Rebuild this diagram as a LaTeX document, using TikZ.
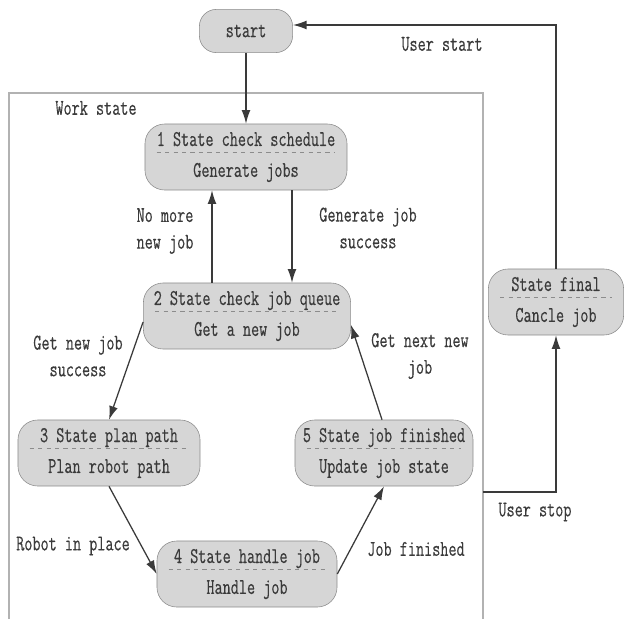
\documentclass[tikz,border=0pt]{standalone}
\usepackage{fontspec}
\setmainfont{Latin Modern Mono}[FakeStretch=0.7,FakeBold=0.4]
\usetikzlibrary{arrows.meta, positioning, calc}
\definecolor{stfill}{HTML}{D6D6D6}
\definecolor{stline}{HTML}{8C8C8C}
\definecolor{ink}{HTML}{3A3A3A}
\tikzset{state/.style={rectangle,draw=stline,fill=stfill,rounded corners=14pt,align=center,minimum height=1.65cm,text=ink,font=\fontsize{16}{22}\selectfont,inner sep=2pt},
         startbox/.style={rectangle,draw=stline,fill=stfill,rounded corners=12pt,minimum width=2.33cm,minimum height=1.08cm,text=ink,font=\fontsize{16}{16}\selectfont},
         label/.style={align=center,text=ink,font=\fontsize{16}{19}\selectfont,inner sep=0pt},
         sep/.style={dashed,stline,line width=0.5pt},
         frame/.style={draw=gray!60,line width=0.8pt},
         arrow/.style={-{Latex[length=3.4mm,width=2.2mm]},line width=0.9pt,draw=ink}}

\begin{document}
\begin{tikzpicture}[x=0.025cm,y=-0.025cm]
    \useasboundingbox (0,0) rectangle (625,619);
    % Work state frame
    \draw[frame] (9,619) -- (9,93) -- (483,93) -- (483,619);
    \node (work) at (96,108) [label]{Work state};
    % States
    \node (start) at (246,31) [startbox]{start};
    \node (s1) at (246,157) [state,minimum width=5.05cm]{1 State check schedule\\Generate jobs};
    \node (s2) at (247,316) [state,minimum width=5.18cm]{2 State check job queue\\Get a new job};
    \node (s3) at (109,453) [state,minimum width=4.55cm]{3 State plan path\\Plan robot path};
    \node (s4) at (247,574) [state,minimum width=4.5cm]{4 State handle job\\Handle job};
    \node (s5) at (384,453) [state,minimum width=4.45cm]{5 State job finished\\Update job state};
    \node (fin) at (556,302) [state,minimum width=3.38cm]{State final\\Cancle job};
    % Dashed separators
    \foreach \s in {s1,s2,s3,s4,s5,fin}
      \draw[sep] ([xshift=0.3cm,yshift=0.12cm]\s.west) -- ([xshift=-0.3cm,yshift=0.12cm]\s.east);
    % Transitions
    \coordinate (stopout) at (483,492);
    \draw[arrow] (start) -- (s1);
    \draw[arrow] (s1.south -| 292,0) -- (s2.north -| 292,0);
    \draw[arrow] (s2.north -| 212,0) -- (s1.south -| 212,0);
    \draw[arrow] ([yshift=-0.15cm]s2.west) -- (s3.north);
    \draw[arrow] (s3.south) -- (s4.west);
    \draw[arrow] (s4.east) -- (s5.south);
    \draw[arrow] ([xshift=-0.05cm]s5.north) -- ([yshift=-0.22cm]s2.east);
    \draw[arrow] (stopout) -| (fin.south);
    \draw[arrow] (fin.north) |- ([yshift=0.15cm]start.east);
    % Labels
    \node (lnomore) at (165,231) [label]{No more\\new job};
    \node (lgenok) at (368,228) [label]{Generate job\\success};
    \node (lgetnew) at (78,356) [label]{Get new job\\success};
    \node (lgetnext) at (420,356) [label]{Get next new\\job};
    \node (lrobot) at (73,546) [label]{Robot in place};
    \node (ldone) at (416,549) [label]{Job finished};
    \node (lstop) at (535,512) [label]{User stop};
    \node (lstart) at (442,44) [label]{User start};
  \end{tikzpicture}
\end{document}
